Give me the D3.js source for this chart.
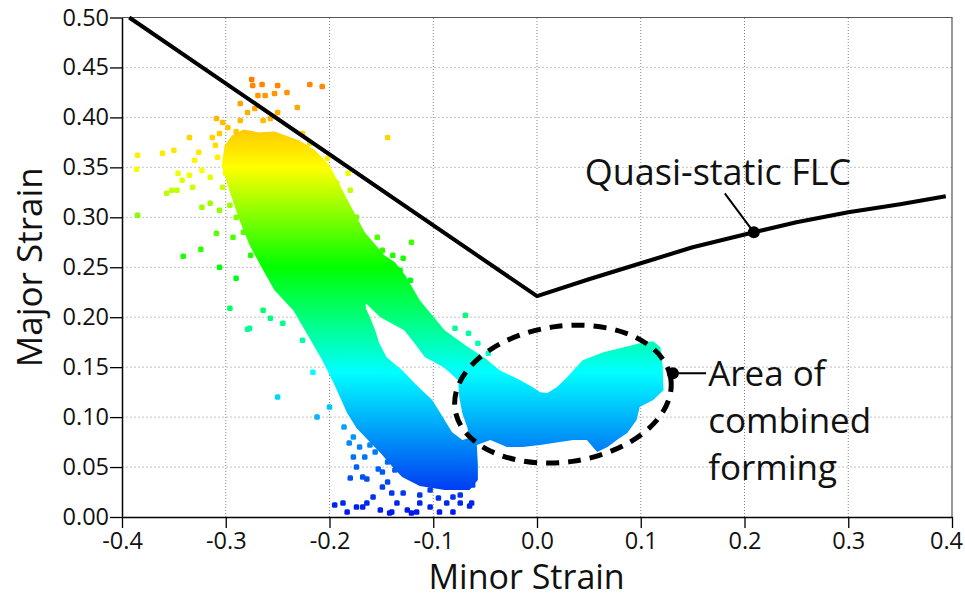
<!DOCTYPE html>
<html>
<head>
<meta charset="utf-8">
<script src="https://cdn.jsdelivr.net/npm/d3@7"></script>
<style>
    html, body { margin: 0; background: #fff; }
    svg { display: block; font-family: "Open Sans", sans-serif; }
</style>
</head>
<body>
<div id="chart"></div>
<script>
// Data
const xTicks = [-0.4, -0.3, -0.2, -0.1, 0.0, 0.1, 0.2, 0.3, 0.4]
const yTicks = [0, 0.05, 0.1, 0.15, 0.2, 0.25, 0.3, 0.35, 0.4, 0.45, 0.5]

// quasi-static forming limit curve
const flcMinor = [-0.393, 0.0, 0.05, 0.1, 0.15, 0.209, 0.25, 0.3, 0.35, 0.394]
const flcMajor = [0.5, 0.221, 0.238, 0.254, 0.270, 0.285, 0.295, 0.305, 0.313, 0.321]
const flcMarker = [0.209, 0.285]

// dense strain cloud, outer edge and the empty slot inside it [minor, major]
const cloudOutline = [
    [-0.294, 0.382], [-0.283, 0.388], [-0.268, 0.385], [-0.253, 0.386], [-0.229, 0.377], [-0.214, 0.367],
    [-0.200, 0.352], [-0.190, 0.332], [-0.180, 0.312], [-0.166, 0.285], [-0.147, 0.262],
    [-0.137, 0.255], [-0.127, 0.242], [-0.113, 0.217], [-0.101, 0.202], [-0.089, 0.187],
    [-0.069, 0.172], [-0.050, 0.159], [-0.036, 0.147], [-0.016, 0.137], [-0.004, 0.130],
    [0.003, 0.125], [0.010, 0.124], [0.019, 0.130], [0.029, 0.140], [0.044, 0.157],
    [0.064, 0.165], [0.080, 0.169], [0.099, 0.174], [0.112, 0.176], [0.119, 0.170],
    [0.121, 0.154], [0.122, 0.127], [0.112, 0.117], [0.099, 0.110], [0.096, 0.097],
    [0.087, 0.084], [0.077, 0.077], [0.068, 0.070], [0.058, 0.065], [0.048, 0.077],
    [0.035, 0.077], [0.022, 0.075], [0.003, 0.072], [-0.014, 0.070], [-0.029, 0.070],
    [-0.045, 0.077], [-0.058, 0.072], [-0.057, 0.052], [-0.057, 0.037], [-0.065, 0.027],
    [-0.089, 0.027], [-0.113, 0.031], [-0.130, 0.040], [-0.140, 0.051], [-0.150, 0.063],
    [-0.162, 0.076], [-0.174, 0.089], [-0.183, 0.104], [-0.195, 0.132], [-0.207, 0.157],
    [-0.222, 0.184], [-0.235, 0.207], [-0.253, 0.227], [-0.265, 0.249], [-0.277, 0.272],
    [-0.286, 0.295], [-0.296, 0.325], [-0.304, 0.352], [-0.301, 0.372]
]
const cloudHole = [
    [-0.165, 0.214], [-0.151, 0.200], [-0.128, 0.187], [-0.118, 0.174], [-0.108, 0.160],
    [-0.090, 0.150], [-0.076, 0.137], [-0.075, 0.120], [-0.072, 0.104], [-0.067, 0.089],
    [-0.065, 0.079], [-0.072, 0.077], [-0.082, 0.085], [-0.092, 0.102], [-0.101, 0.117],
    [-0.118, 0.134], [-0.130, 0.147], [-0.145, 0.160], [-0.152, 0.174], [-0.156, 0.187],
    [-0.161, 0.200], [-0.165, 0.209]
]

// loose measurement points around the cloud [minor, major]
const scatterPoints = [
    [-0.275, 0.438], [-0.265, 0.433], [-0.274, 0.432], [-0.250, 0.432], [-0.219, 0.433],
    [-0.207, 0.431], [-0.269, 0.422], [-0.262, 0.422], [-0.253, 0.424], [-0.241, 0.425],
    [-0.286, 0.414], [-0.272, 0.409], [-0.231, 0.410], [-0.250, 0.405], [-0.279, 0.405],
    [-0.286, 0.397], [-0.303, 0.395], [-0.309, 0.399], [-0.264, 0.397], [-0.257, 0.399],
    [-0.335, 0.380], [-0.313, 0.380], [-0.306, 0.384], [-0.361, 0.364], [-0.350, 0.367],
    [-0.385, 0.362], [-0.386, 0.348], [-0.326, 0.365], [-0.330, 0.357], [-0.346, 0.344],
    [-0.335, 0.342], [-0.342, 0.337], [-0.352, 0.327], [-0.332, 0.330], [-0.323, 0.347],
    [-0.315, 0.340], [-0.357, 0.324], [-0.347, 0.327], [-0.323, 0.310], [-0.315, 0.314],
    [-0.306, 0.307], [-0.385, 0.302], [-0.309, 0.284], [-0.293, 0.280], [-0.341, 0.261],
    [-0.324, 0.268], [-0.306, 0.250], [-0.290, 0.239], [-0.226, 0.384], [-0.219, 0.374],
    [-0.202, 0.359], [-0.206, 0.347], [-0.182, 0.344], [-0.193, 0.334], [-0.180, 0.327],
    [-0.187, 0.314], [-0.174, 0.300], [-0.144, 0.380],
    [-0.298, 0.390], [-0.290, 0.386], [-0.310, 0.372], [-0.308, 0.360], [-0.300, 0.344],
    [-0.303, 0.330], [-0.296, 0.312], [-0.290, 0.300], [-0.283, 0.285], [-0.276, 0.262],
    [-0.154, 0.280], [-0.121, 0.275], [-0.149, 0.267], [-0.139, 0.262], [-0.129, 0.259],
    [-0.132, 0.247], [-0.122, 0.237], [-0.069, 0.202], [-0.079, 0.189], [-0.066, 0.184],
    [-0.057, 0.174], [-0.081, 0.175], [-0.047, 0.164], [-0.063, 0.163],
    [-0.264, 0.207], [-0.257, 0.199], [-0.245, 0.194], [-0.277, 0.189], [-0.216, 0.145],
    [-0.226, 0.177], [-0.250, 0.120], [-0.296, 0.209], [-0.279, 0.188], [-0.212, 0.100],
    [-0.200, 0.110],
    [-0.177, 0.060], [-0.180, 0.039], [-0.168, 0.040], [-0.195, 0.012], [-0.187, 0.014],
    [-0.183, 0.005], [-0.168, 0.010], [-0.158, 0.020], [-0.149, 0.030], [-0.144, 0.035],
    [-0.140, 0.024], [-0.135, 0.014], [-0.129, 0.024], [-0.125, 0.007], [-0.113, 0.014],
    [-0.116, 0.005], [-0.103, 0.010], [-0.095, 0.019], [-0.094, 0.005], [-0.081, 0.005],
    [-0.074, 0.014], [-0.063, 0.014], [-0.062, 0.032], [-0.081, 0.020], [-0.151, 0.007],
    [-0.140, 0.005], [-0.174, 0.050], [-0.174, 0.010], [-0.164, 0.014], [-0.121, 0.004],
    [-0.087, 0.014], [-0.065, 0.011], [-0.142, 0.004],
    [-0.177, 0.080], [-0.171, 0.070], [-0.161, 0.072], [-0.156, 0.065], [-0.144, 0.055],
    [-0.137, 0.047], [-0.149, 0.045], [-0.166, 0.060], [-0.103, 0.027], [-0.074, 0.022],
    [-0.113, 0.022], [-0.186, 0.090], [-0.181, 0.074], [-0.164, 0.038], [-0.153, 0.048]
]

// colour map: major strain -> colour
const colorStrain = [0, 0.145, 0.25, 0.35, 0.43, 0.5]
const colorHex = ['#0010f0', '#00ffff', '#00ff00', '#ffff00', '#ff8c00', '#ff1000']

// annotations
const combinedCenter = [0.025, 0.123]
const combinedRadius = [0.105, 0.068]
const combinedMarker = [0.131, 0.144]
const combinedLabel = ['Area of', 'combined', 'forming']
const combinedLabelAt = [0.165, [0.131, 0.084, 0.037]]
const flcLabel = 'Quasi-static FLC'
const flcLabelAt = [0.046, 0.332]
const flcLeaderEnd = [0.181, 0.324]

// SVG Node
const width = 965
const height = 598
const svg = d3.select('#chart').append('svg')
    .attr('width', width)
    .attr('height', height)

// Scale
const x = d3.scaleLinear().domain([-0.4, 0.4]).range([122, 952])
const y = d3.scaleLinear().domain([0, 0.5]).range([517, 17.5])
const color = d3.scaleLinear().domain(colorStrain).range(colorHex)

// Grid
svg.append('g').selectAll('line')
    .data(xTicks.slice(1, -1))
    .join('line')
    .attr('x1', d => x(d)).attr('x2', d => x(d))
    .attr('y1', y(0)).attr('y2', y(0.5))
    .attr('stroke', '#888')
    .attr('stroke-dasharray', '1 2')
svg.append('g').selectAll('line')
    .data(yTicks.slice(1, -1))
    .join('line')
    .attr('x1', x(-0.4)).attr('x2', x(0.4))
    .attr('y1', d => y(d)).attr('y2', d => y(d))
    .attr('stroke', '#c4c4c4')
    .attr('stroke-dasharray', '2 2')

// frame (top / right)
svg.append('path')
    .attr('d', `M${x(-0.4)},${y(0.5)}H${x(0.4)}V${y(0)}`)
    .attr('fill', 'none')
    .attr('stroke', '#555')
    .attr('stroke-width', 1.2)

// Gradient for the dense cloud, coloured by major strain
const grad = svg.append('defs').append('linearGradient')
    .attr('id', 'strainFill')
    .attr('gradientUnits', 'userSpaceOnUse')
    .attr('x1', 0).attr('x2', 0)
    .attr('y1', y(0)).attr('y2', y(0.5))
grad.selectAll('stop')
    .data(colorStrain)
    .join('stop')
    .attr('offset', d => d / 0.5)
    .attr('stop-color', d => color(d))

// Cloud
const outline = d3.line().x(d => x(d[0])).y(d => y(d[1]))
svg.append('path')
    .attr('d', outline(cloudOutline) + 'Z' + outline(cloudHole) + 'Z')
    .attr('fill', 'url(#strainFill)')
    .attr('fill-rule', 'evenodd')

svg.append('g').selectAll('rect')
    .data(scatterPoints)
    .join('rect')
    .attr('x', d => x(d[0]) - 2.75)
    .attr('y', d => y(d[1]) - 2.75)
    .attr('width', 5.5)
    .attr('height', 5.5)
    .attr('rx', 1.5)
    .attr('fill', d => color(d[1]))

// FLC
svg.append('path')
    .attr('d', d3.line().x(d => x(d)).y((_, i) => y(flcMajor[i]))(flcMinor))
    .attr('fill', 'none')
    .attr('stroke', '#000')
    .attr('stroke-width', 4)
    .attr('stroke-linejoin', 'round')

// Axis
const yAxis = svg.append('g')
    .attr('transform', `translate(${x(-0.4)},0)`)
    .call(d3.axisLeft(y).tickValues(yTicks).tickFormat(d => d.toFixed(2)).tickSize(12).tickSizeOuter(0).tickPadding(1))
const xAxis = svg.append('g')
    .attr('transform', `translate(0,${y(0)})`)
    .call(d3.axisBottom(x).tickValues(xTicks).tickFormat(d => d.toFixed(1)).tickSize(11).tickSizeOuter(0).tickPadding(4))
for (const g of [xAxis, yAxis]) {
    g.select('.domain').attr('stroke', '#000').attr('stroke-width', 1.5)
    g.selectAll('.tick line').attr('stroke', '#000').attr('stroke-width', 1.3)
    g.selectAll('.tick text')
        .attr('fill', '#111')
        .style('font-family', '"Open Sans", sans-serif')
        .style('font-size', '23.5px')
}
// last label sits on the page edge: nudge it inside
xAxis.selectAll('.tick text').filter(d => d === 0.4).attr('dx', -6)

svg.append('text')
    .attr('transform', `translate(42,${y(0.25)}) rotate(-90)`)
    .attr('text-anchor', 'middle')
    .style('font-size', '35px')
    .attr('fill', '#111')
    .text('Major Strain')
svg.append('text')
    .attr('x', x(-0.01))
    .attr('y', 589)
    .attr('text-anchor', 'middle')
    .style('font-size', '34px')
    .attr('fill', '#111')
    .text('Minor Strain')

// Annotation: combined forming area
svg.append('ellipse')
    .attr('cx', x(combinedCenter[0]))
    .attr('cy', y(combinedCenter[1]))
    .attr('rx', x(combinedCenter[0] + combinedRadius[0]) - x(combinedCenter[0]))
    .attr('ry', y(0) - y(combinedRadius[1]))
    .attr('transform', `rotate(-8,${x(combinedCenter[0])},${y(combinedCenter[1])})`)
    .attr('fill', 'none')
    .attr('stroke', '#000')
    .attr('stroke-width', 5)
    .attr('stroke-dasharray', '13 9')
svg.append('line')
    .attr('x1', x(combinedMarker[0])).attr('y1', y(combinedMarker[1]))
    .attr('x2', x(combinedLabelAt[0] - 0.002)).attr('y2', y(combinedMarker[1]))
    .attr('stroke', '#000')
    .attr('stroke-width', 2)
svg.append('circle')
    .attr('cx', x(combinedMarker[0])).attr('cy', y(combinedMarker[1]))
    .attr('r', 6)
svg.append('g').selectAll('text')
    .data(combinedLabel)
    .join('text')
    .attr('x', x(combinedLabelAt[0]))
    .attr('y', (_, i) => y(combinedLabelAt[1][i]))
    .style('font-size', '35px')
    .attr('fill', '#111')
    .text(d => d)

// Annotation: FLC
svg.append('line')
    .attr('x1', x(flcLeaderEnd[0])).attr('y1', y(flcLeaderEnd[1]))
    .attr('x2', x(flcMarker[0])).attr('y2', y(flcMarker[1]))
    .attr('stroke', '#000')
    .attr('stroke-width', 2)
svg.append('circle')
    .attr('cx', x(flcMarker[0])).attr('cy', y(flcMarker[1]))
    .attr('r', 6)
svg.append('text')
    .attr('x', x(flcLabelAt[0]))
    .attr('y', y(flcLabelAt[1]))
    .style('font-size', '36px')
    .attr('fill', '#111')
    .text(flcLabel)
</script>
</body>
</html>
